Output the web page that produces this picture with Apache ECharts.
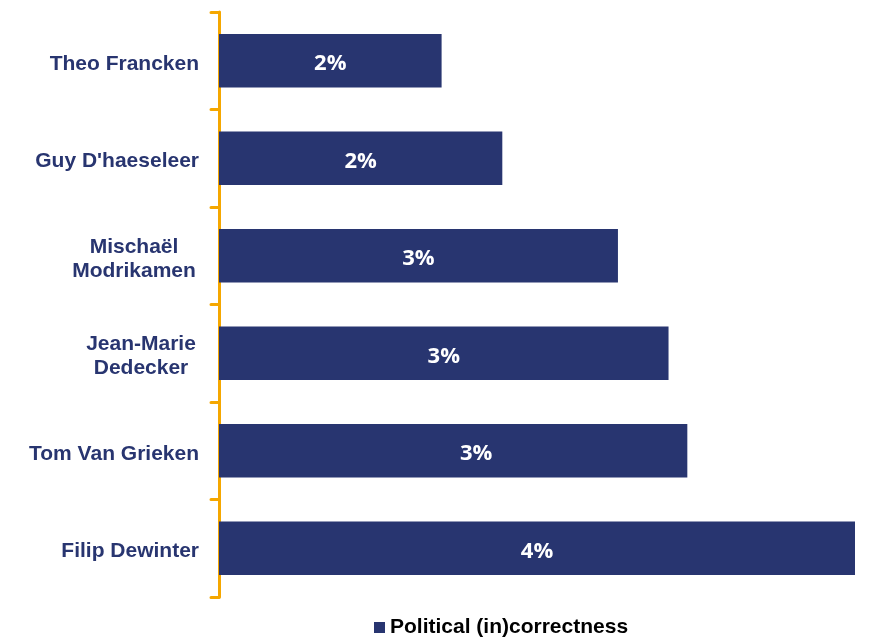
<!DOCTYPE html>
<html>
<head>
<meta charset="utf-8">
<script src="https://cdn.jsdelivr.net/npm/echarts@6/dist/echarts.min.js"></script>
<style>
html,body{margin:0;padding:0;background:#fff;}
#chart{width:871px;height:637px;}
</style>
</head>
<body>
<div id="chart"></div>
<script>
const categories = ['Theo Francken', "Guy D'haeseleer", 'Mischaël\nModrikamen', 'Jean-Marie\nDedecker', 'Tom Van Grieken', 'Filip Dewinter'];
const seriesName = 'Political (in)correctness';
const values = [1.54, 1.96, 2.76, 3.11, 3.24, 4.4];
const axisMax = 4.4;

const NAVY = '#283570';
const ORANGE = '#F5A700';
const FONT = 'Liberation Sans, Arial, sans-serif';

// the reference places the label of the 5th bar slightly right of centre
const barData = values.map((v, i) => i === 4 ? { value: v, label: { offset: [23, 3] } } : v);

const chart = echarts.init(document.getElementById('chart'));
chart.setOption({
  animation: false,
  grid: { left: 219, right: 16, top: 12, bottom: 40, containLabel: false },
  legend: {
    data: [seriesName],
    left: 369,
    top: 612,
    icon: 'rect',
    itemWidth: 11,
    itemHeight: 11,
    itemGap: 5,
    textStyle: { fontFamily: FONT, fontWeight: 'bold', fontSize: 21, color: '#000' }
  },
  xAxis: {
    type: 'value', min: 0, max: axisMax,
    show: false,
    splitLine: { show: false }
  },
  yAxis: {
    type: 'category',
    data: categories,
    inverse: true,
    axisLine: { show: true, lineStyle: { color: ORANGE, width: 3, cap: 'round' } },
    axisTick: { show: true, alignWithLabel: false, length: 8, lineStyle: { color: ORANGE, width: 3, cap: 'round' } },
    axisLabel: {
      margin: 20,
      color: NAVY,
      fontFamily: FONT,
      fontWeight: 'bold',
      fontSize: 21,
      lineHeight: 24,
      padding: [6, 0, 0, 0],
      formatter: function (v) {
        if (v.indexOf('\n') >= 0) {
          const parts = v.split('\n');
          const key = parts[0].indexOf('Jean') === 0 ? 'j' : 'm';
          return parts.map(p => '{' + key + '|' + p + '}').join('\n');
        }
        return v;
      },
      rich: {
        m: { width: 130, align: 'center', color: NAVY, fontFamily: FONT, fontWeight: 'bold', fontSize: 21, lineHeight: 24 },
        j: { width: 116, align: 'center', color: NAVY, fontFamily: FONT, fontWeight: 'bold', fontSize: 21, lineHeight: 24 }
      }
    }
  },
  series: [{
    name: seriesName,
    type: 'bar',
    data: barData,
    barWidth: '55%',
    itemStyle: { color: NAVY },
    label: {
      show: true,
      position: 'inside',
      offset: [0, 3],
      color: '#fff',
      fontFamily: 'Open Sans, sans-serif',
      fontWeight: 'bold',
      fontSize: 22,
      formatter: p => Math.round(p.value) + '%'
    }
  }]
});
</script>
</body>
</html>
